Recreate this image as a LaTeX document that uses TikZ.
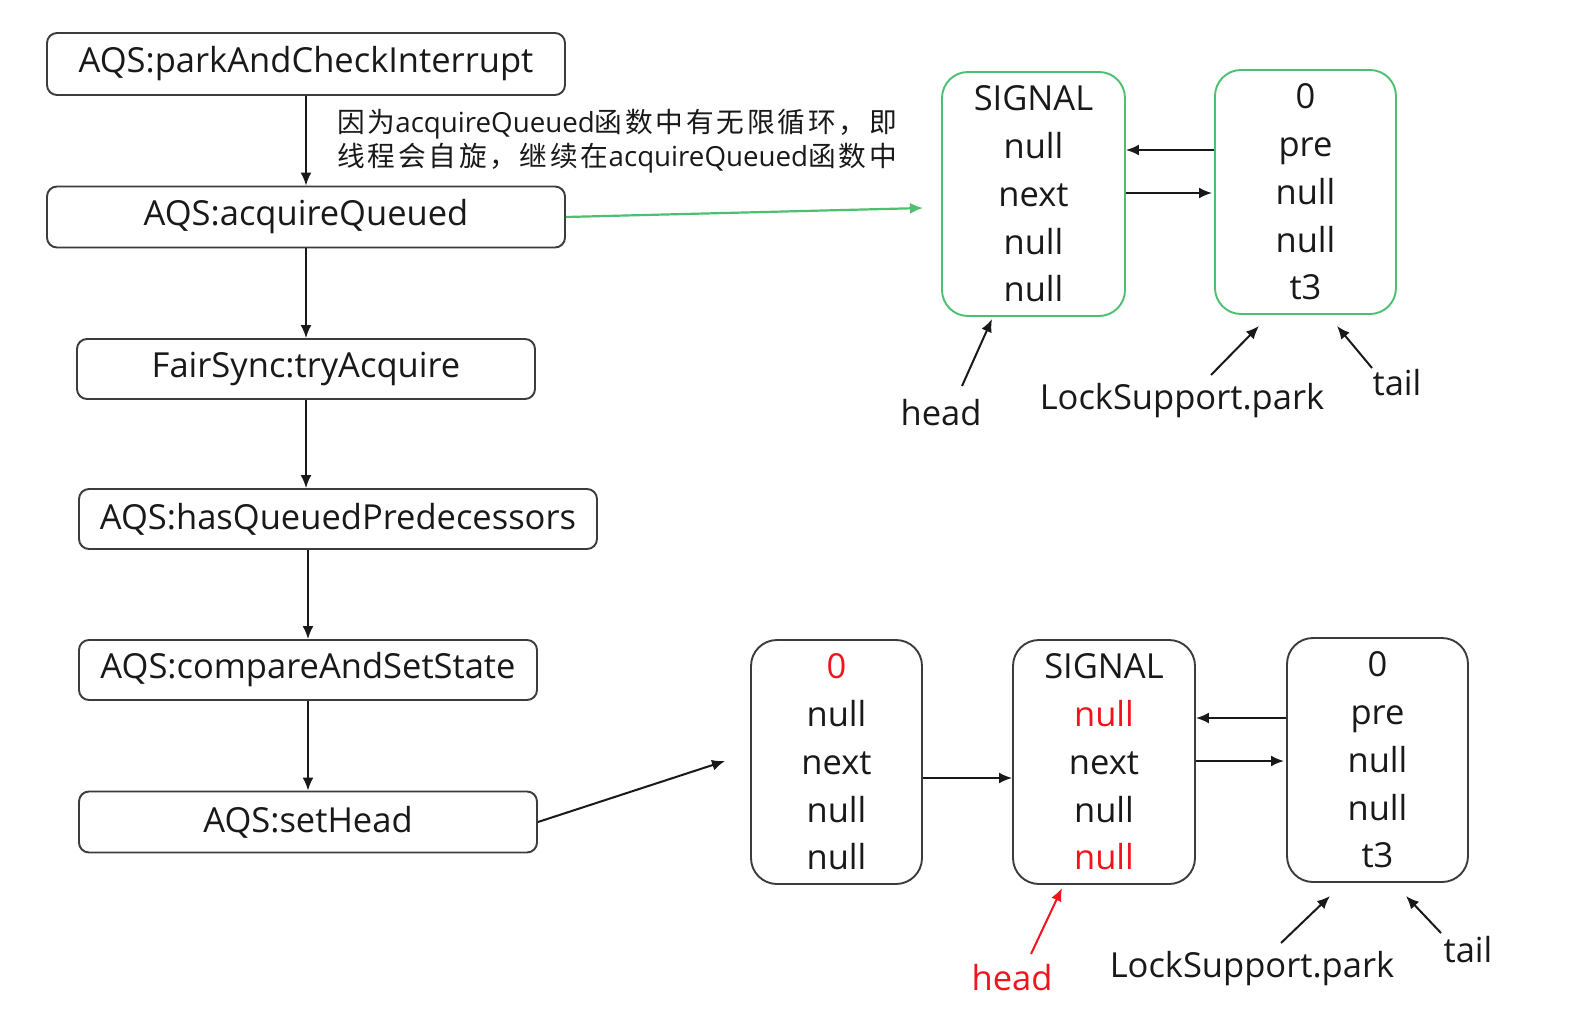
\documentclass[tikz,border=0pt]{standalone}
\usepackage{fontspec}
\setmainfont{Open Sans}
\newfontfamily\cjk{Noto Sans CJK SC}[LetterSpace=10]
\usetikzlibrary{arrows.meta}
\definecolor{gr}{RGB}{76,192,112}
\definecolor{bd}{RGB}{60,60,60}
\definecolor{rd}{RGB}{240,20,30}
\definecolor{tx}{RGB}{25,25,25}
\begin{document}
\begin{tikzpicture}[x=1pt,y=-1pt,
  fbox/.style={draw=bd, line width=1.9pt, rounded corners=10pt, inner sep=0pt, text=tx, font=\fontsize{34.5}{40}\selectfont},
  qbox/.style={draw=bd, line width=1.9pt, rounded corners=26pt, inner sep=0pt, align=center, text=tx, font=\fontsize{34.5}{47.7}\selectfont},
  gbox/.style={qbox, draw=gr},
  arr/.style={-{Latex[length=13pt,width=11pt]}, line width=2pt, draw=tx},
  lbl/.style={font=\fontsize{34.5}{40}\selectfont, inner sep=0pt, text=tx}
]
\useasboundingbox[fill=white] (0,0) rectangle (1582,1014);

% left flow
\node[fbox, minimum width=518pt, minimum height=62pt] (b1) at (306,64) {AQS:parkAndCheckInterrupt};
\node[fbox, minimum width=518pt, minimum height=61pt] (b2) at (306,217) {AQS:acquireQueued};
\node[fbox, minimum width=458pt, minimum height=60pt] (b3) at (306,369) {FairSync:tryAcquire};
\node[fbox, minimum width=518pt, minimum height=60pt] (b4) at (338,519) {AQS:hasQueuedPredecessors};
\node[fbox, minimum width=458pt, minimum height=60pt] (b5) at (308,670) {AQS:compareAndSetState};
\node[fbox, minimum width=458pt, minimum height=61pt] (b6) at (308,822) {AQS:setHead};

\draw[arr] (b1.south) -- (b2.north);
\draw[arr] (b2.south) -- (b3.north);
\draw[arr] (b3.south) -- (b3.south |- b4.north);
\draw[arr] (b5.north |- b4.south) -- (b5.north);
\draw[arr] (b5.south) -- (b6.north);

\node[anchor=west, align=left, inner sep=0pt, text=tx, font=\fontsize{27.7}{34}\selectfont] (note) at (337,141)
  {{\cjk 因为}acquireQueued{\cjk 函数中有无限循环，即}\\{\cjk 线程会自旋，继续在}acquireQueued{\cjk 函数中}};

% top queue (green)
\node[gbox, minimum width=183pt, minimum height=244pt] (A) at (1033.5,194) {SIGNAL\\null\\next\\null\\null};
\node[gbox, minimum width=181pt, minimum height=244pt] (B) at (1305.5,192) {0\\pre\\null\\null\\t3};

\coordinate (g1) at (923,208);
\draw[arr, draw=gr, line width=2.2pt] (b2.east) -- (g1);

\draw[arr] (B.west |- 0,150) -- (A.east |- 0,150);
\draw[arr] (A.east |- 0,193) -- (1212,193);

\node[lbl] (hA) at (941,413) {head};
\node[lbl] (lA) at (1182,401) {LockSupport.park};
\node[lbl] (tA) at (1397,383) {tail};
\coordinate (hA1) at (962,386); \coordinate (hA2) at (992,319);
\coordinate (lA1) at (1211,375); \coordinate (lA2) at (1259,326);
\coordinate (tA1) at (1372,368); \coordinate (tA2) at (1337,326);
\draw[arr] (hA1) -- (hA2);
\draw[arr] (lA1) -- (lA2);
\draw[arr] (tA1) -- (tA2);

% bottom queue
\node[qbox, minimum width=171pt, minimum height=244pt] (C) at (836.5,762) {\textcolor{rd}{0}\\null\\next\\null\\null};
\node[qbox, minimum width=182pt, minimum height=244pt] (D) at (1104,762) {SIGNAL\\\textcolor{rd}{null}\\next\\null\\\textcolor{rd}{null}};
\node[qbox, minimum width=181pt, minimum height=244pt] (E) at (1377.5,760) {0\\pre\\null\\null\\t3};

\coordinate (s1) at (725,761);
\draw[arr] (b6.east) -- (s1);
\draw[arr] (C.east |- 0,778) -- (D.west |- 0,778);
\draw[arr] (E.west |- 0,718) -- (D.east |- 0,718);
\draw[arr] (D.east |- 0,761) -- (1284,761);

\node[lbl, text=rd] (hB) at (1012,978) {head};
\node[lbl] (lB) at (1252,969) {LockSupport.park};
\node[lbl] (tB) at (1468,950) {tail};
\coordinate (hB1) at (1031,954); \coordinate (hB2) at (1062,888);
\coordinate (lB1) at (1281,943); \coordinate (lB2) at (1330,896);
\coordinate (tB1) at (1441,933); \coordinate (tB2) at (1406,896);
\draw[arr, draw=rd] (hB1) -- (hB2);
\draw[arr] (lB1) -- (lB2);
\draw[arr] (tB1) -- (tB2);
\end{tikzpicture}
\end{document}
